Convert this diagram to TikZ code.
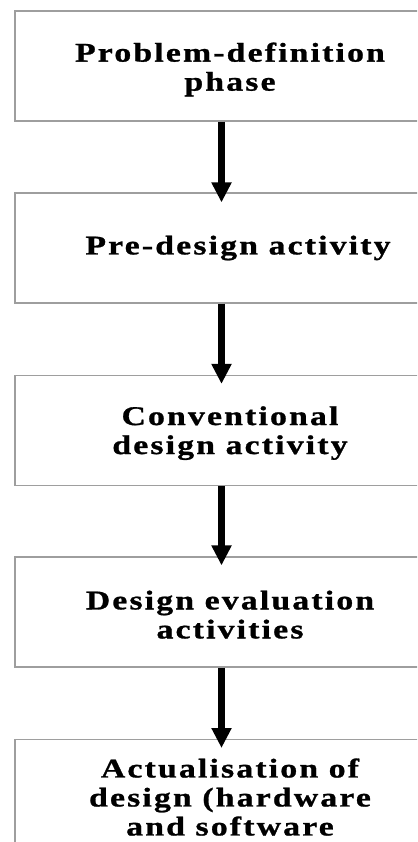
\documentclass[tikz,border=0pt]{standalone}
\usepackage{fontspec}
\setmainfont{Liberation Serif}[LetterSpace=8,FakeStretch=1.25,FakeBold=1]
\usetikzlibrary{arrows.meta}

\tikzset{
  phase/.style={draw=black!38, line width=1.2pt, rectangle, minimum width=430pt,
    minimum height=110pt, align=center, inner sep=0pt,
    font=\fontsize{27}{29}\selectfont\bfseries},
  flow/.style={line width=7pt, -{Triangle[length=20pt,width=19pt]}}
}

\begin{document}
\begin{tikzpicture}[x=1pt,y=1pt]
    \clip (0,0) rectangle (417,-842);
    \fill[white] (0,0) rectangle (417,-842);
    \node[phase] (p1) at (230,-66) {\rule{0pt}{26pt}Problem-definition\\phase};
    \node[phase] (p2) at (230,-248) {\hspace*{16pt}Pre-design activity};
    \node[phase] (p3) at (230,-430.5) {\rule{0pt}{24pt}Conventional\\design activity};
    \node[phase] (p4) at (230,-612) {\rule{0pt}{24pt}Design evaluation\\activities};
    \node[phase,anchor=north] (p5) at (230,-739) {\rule{0pt}{24pt}Actualisation of\\design (hardware\\and software};
    \draw[flow] ([xshift=-8.5pt]p1.south) -- ([xshift=-8.5pt,yshift=-10pt]p2.north);
    \draw[flow] ([xshift=-8.5pt]p2.south) -- ([xshift=-8.5pt,yshift=-9pt]p3.north);
    \draw[flow] ([xshift=-8.5pt]p3.south) -- ([xshift=-8.5pt,yshift=-9pt]p4.north);
    \draw[flow] ([xshift=-8.5pt]p4.south) -- ([xshift=-8.5pt,yshift=-9pt]p5.north);
  \end{tikzpicture}
\end{document}
